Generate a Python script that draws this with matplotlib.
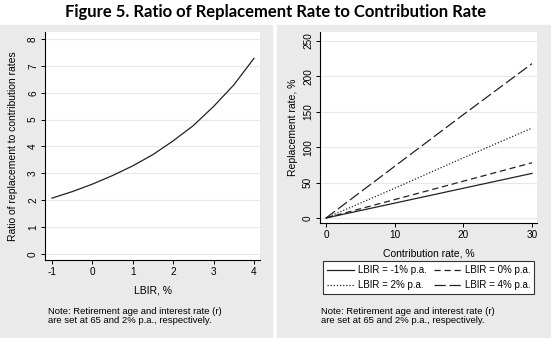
import matplotlib.pyplot as plt
from matplotlib.patches import Rectangle

# left panel: ratio vs LBIR
lbir = [-1, -0.5, 0, 0.5, 1, 1.5, 2, 2.5, 3, 3.5, 4]
ratio = [2.08, 2.32, 2.6, 2.92, 3.28, 3.7, 4.21, 4.78, 5.49, 6.29, 7.28]

# right panel: replacement rate vs contribution rate
contrib = [0, 10, 20, 30]
rr_m1 = [0, 21, 42, 63]
rr_0 = [0, 26, 52, 78]
rr_2 = [0, 42, 85, 127]
rr_4 = [0, 73, 146, 218]

W, H = 551, 338
plt.rcParams['font.family'] = ['Liberation Sans', 'DejaVu Sans']
plt.rcParams['axes.unicode_minus'] = False
fig = plt.figure(figsize=(W / 100, H / 100), dpi=100)
fig.patch.set_facecolor('white')

bg = '#eaeaea'
line_col = '#222222'


def fx(px):
    return px / W


def fy(py):
    return 1 - py / H


# gray panel backgrounds
fig.add_artist(Rectangle((fx(0), fy(338)), fx(272), fy(25) - fy(338),
                         transform=fig.transFigure, color=bg, zorder=-10))
fig.add_artist(Rectangle((fx(277), fy(338)), fx(551 - 277), fy(25) - fy(338),
                         transform=fig.transFigure, color=bg, zorder=-10))

fig.text(0.5, fy(12), 'Figure 5. Ratio of Replacement Rate to Contribution Rate',
         ha='center', va='center', fontsize=12, fontweight='bold', family='Lato')


def style(ax):
    ax.set_facecolor('white')
    for s in ['top', 'right']:
        ax.spines[s].set_visible(False)
    for s in ['left', 'bottom']:
        ax.spines[s].set_linewidth(0.8)
    ax.tick_params(length=3, width=0.7, labelsize=7.2, pad=2)
    ax.grid(axis='y', color='#e8e8e8', linewidth=0.8)
    ax.set_axisbelow(True)
    for lab in ax.get_yticklabels():
        lab.set_rotation(90)
        lab.set_va('center')


# left axes
ax1 = fig.add_axes([fx(45), fy(260), fx(260 - 45), fy(32) - fy(260)])
ax1.plot(lbir, ratio, color=line_col, linewidth=0.9)
ax1.set_xlim(-1.173, 4.149)
ax1.set_ylim(-0.223, 8.26)
ax1.set_xticks([-1, 0, 1, 2, 3, 4])
ax1.set_yticks(range(0, 9))
style(ax1)
ax1.set_xlabel('LBIR, %', fontsize=7.5, labelpad=6)
ax1.set_ylabel('Ratio of replacement to contribution rates', fontsize=7.5, labelpad=7)

# right axes
ax2 = fig.add_axes([fx(320), fy(223), fx(537 - 320), fy(32) - fy(223)])
ax2.plot(contrib, rr_m1, color=line_col, linewidth=0.9, linestyle='-', label='LBIR = -1% p.a.')
ax2.plot(contrib, rr_0, color=line_col, linewidth=0.9, linestyle=(0, (5, 3)), label='LBIR = 0% p.a.')
ax2.plot(contrib, rr_2, color=line_col, linewidth=0.9, linestyle=(0, (1, 1.5)), label='LBIR = 2% p.a.')
ax2.plot(contrib, rr_4, color=line_col, linewidth=0.9, linestyle=(0, (9, 3)), label='LBIR = 4% p.a.')
ax2.set_xlim(-0.874, 30.73)
ax2.set_ylim(-7.06, 262.7)
ax2.set_xticks([0, 10, 20, 30])
ax2.set_yticks([0, 50, 100, 150, 200, 250])
style(ax2)
ax2.set_xlabel('Contribution rate, %', fontsize=7.5, labelpad=6)
ax2.set_ylabel('Replacement rate, %', fontsize=7.5, labelpad=4)

# legend fills row by row: (-1%, 0%) then (2%, 4%)
handles, labels = ax2.get_legend_handles_labels()
order = [0, 2, 1, 3]
leg = fig.legend([handles[i] for i in order], [labels[i] for i in order],
                 ncol=2, loc='center',
                 bbox_to_anchor=(fx(323), fy(293), fx(534 - 323), fy(262) - fy(293)),
                 mode='expand', fontsize=7, frameon=True, fancybox=False,
                 edgecolor='#333333', facecolor='white', framealpha=1,
                 handlelength=2.8, handletextpad=0.4, columnspacing=0.4,
                 borderpad=0.4, labelspacing=0.5, borderaxespad=0)
leg.get_frame().set_linewidth(0.8)

note = 'Note: Retirement age and interest rate (r)\nare set at 65 and 2% p.a., respectively.'
fig.text(fx(48), fy(307), note, ha='left', va='top', fontsize=6.8, linespacing=1.0)
fig.text(fx(321), fy(307), note, ha='left', va='top', fontsize=6.8, linespacing=1.0)

fig.savefig('out.png', dpi=100)
